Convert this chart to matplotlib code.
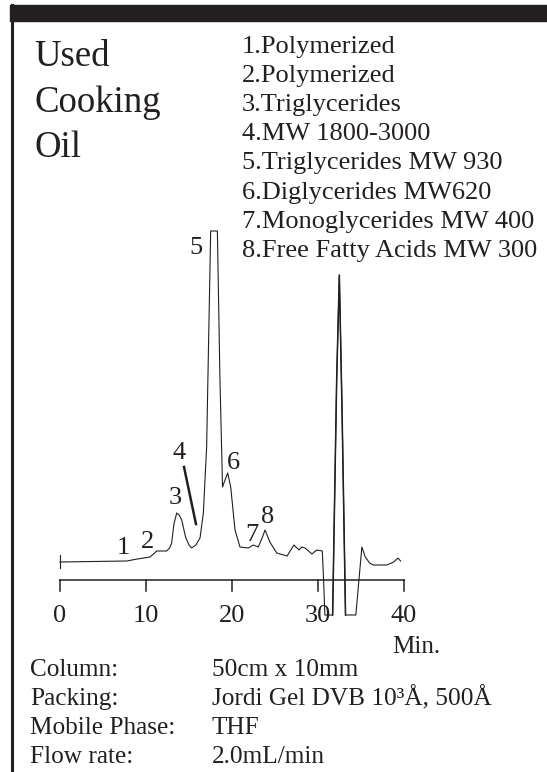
import numpy as np
import matplotlib
matplotlib.use('Agg')
import matplotlib.pyplot as plt
from matplotlib.patches import Rectangle

plt.rcParams['font.family'] = ['Liberation Serif', 'DejaVu Serif']

# chromatogram trace (minutes, detector response in arbitrary units)
times = [0, 7.75, 9.0, 10.47, 11.0, 11.24, 12.4, 12.75, 12.98, 13.25, 13.57, 13.85,
         14.15, 14.6, 15.0, 15.3, 15.8, 16.28, 16.67, 17.05, 17.3, 17.52, 18.3,
         18.6, 18.9, 19.19, 19.5, 19.85, 20.35, 20.93, 21.9, 22.48, 23.06, 23.5,
         23.84, 24.4, 25.2, 26.4, 27.2, 27.8, 28.1, 28.5, 29.3, 29.85, 30.5, 30.65,
         30.8, 31.7, 32.17, 32.48, 32.8, 33.2, 34.4, 35.1, 35.5, 36.0, 36.4, 38.0,
         38.8, 39.3, 39.6]
signal = [0, 1, 3, 5, 9, 11, 11, 14, 19, 38, 49, 47,
          42, 25, 17, 14, 17, 24, 49, 115, 230, 331, 331,
          182, 75, 82, 89, 75, 32, 15, 14, 17, 15, 24,
          32, 20, 9, 6, 17, 12, 15, 14, 8, 12, 11, -18,
          -53, -53, 182, 287, 150, -53, -53, 15, 5, -1, -3, -3,
          0, 4, 1]

xticks = [0, 10, 20, 30, 40]

peak_labels = ['1', '2', '3', '4', '5', '6', '7', '8']
peak_x = [7.33, 10.12, 13.37, 13.84, 15.81, 20.12, 22.33, 24.19]
peak_y = [14, 20, 64, 109, 314, 99, 27, 45]

title_lines = ['Used', 'Cooking', 'Oil']
legend_lines = ['1.Polymerized', '2.Polymerized', '3.Triglycerides', '4.MW 1800-3000',
                '5.Triglycerides MW 930', '6.Diglycerides MW620',
                '7.Monoglycerides MW 400', '8.Free Fatty Acids MW 300']
cond_names = ['Column:', 'Packing:', 'Mobile Phase:', 'Flow rate:']
cond_values = ['50cm x 10mm', 'Jordi Gel DVB 10³Å, 500Å', 'THF', '2.0mL/min']

W, H = 547, 772
fig = plt.figure(figsize=(W / 100, H / 100), dpi=100)
ax = fig.add_axes([0, 0, 1, 1])
# 1 min = 8.6 px, zero at px 60; baseline at px 562
ax.set_xlim((0 - 60) / 8.6, (W - 60) / 8.6)
ax.set_ylim(562 - H, 562)
ax.axis('off')

ink = '#231f20'

def fx(px):
    return px / W

def fy(py):
    return 1 - py / H

# frame: top bar and left rule
fig.patches.append(Rectangle((fx(10), fy(21)), 1 - fx(10), 16 / H, transform=fig.transFigure,
                             color=ink, zorder=0))
fig.add_artist(plt.Line2D([fx(11.5), fx(11.5)], [fy(5), 0], transform=fig.transFigure,
                          color=ink, lw=2.2))

# trace
ax.plot(times, signal, color=ink, lw=0.8)
ax.plot([0, 0], [-6, 7], color=ink, lw=0.8)
# thicker solvent spike
ax.plot(times[47:52], signal[47:52], color=ink, lw=1.1)

# axis
ax.plot([xticks[0], xticks[-1]], [-18, -18], color=ink, lw=1.1)
for t in xticks:
    ax.plot([t, t], [-18, -29], color=ink, lw=1.1)
    ax.text(t, -54, str(t), ha='center', va='center', fontsize=19, color=ink)
ax.text(38.6, -91, 'Min.', ha='left', va='baseline', fontsize=18, color=ink)

# peak numbers
for lab, x, y in zip(peak_labels, peak_x, peak_y):
    ax.text(x, y, lab, ha='center', va='center', fontsize=19, color=ink)
ax.plot([14.42, 15.81], [95, 38], color=ink, lw=1.8)

# text blocks
for i, s in enumerate(title_lines):
    fig.text(fx(34), fy(66 + 45.5 * i), s, fontsize=26.5, color=ink, va='baseline')
for i, s in enumerate(legend_lines):
    fig.text(fx(242), fy(53 + 29.1 * i), s, fontsize=19, color=ink, va='baseline')
for i, (a, b) in enumerate(zip(cond_names, cond_values)):
    fig.text(fx(30), fy(676 + 29 * i), a, fontsize=18.2, color=ink, va='baseline')
    fig.text(fx(212), fy(676 + 29 * i), b, fontsize=18.2, color=ink, va='baseline')

fig.savefig('out.png', dpi=100, facecolor='white')
